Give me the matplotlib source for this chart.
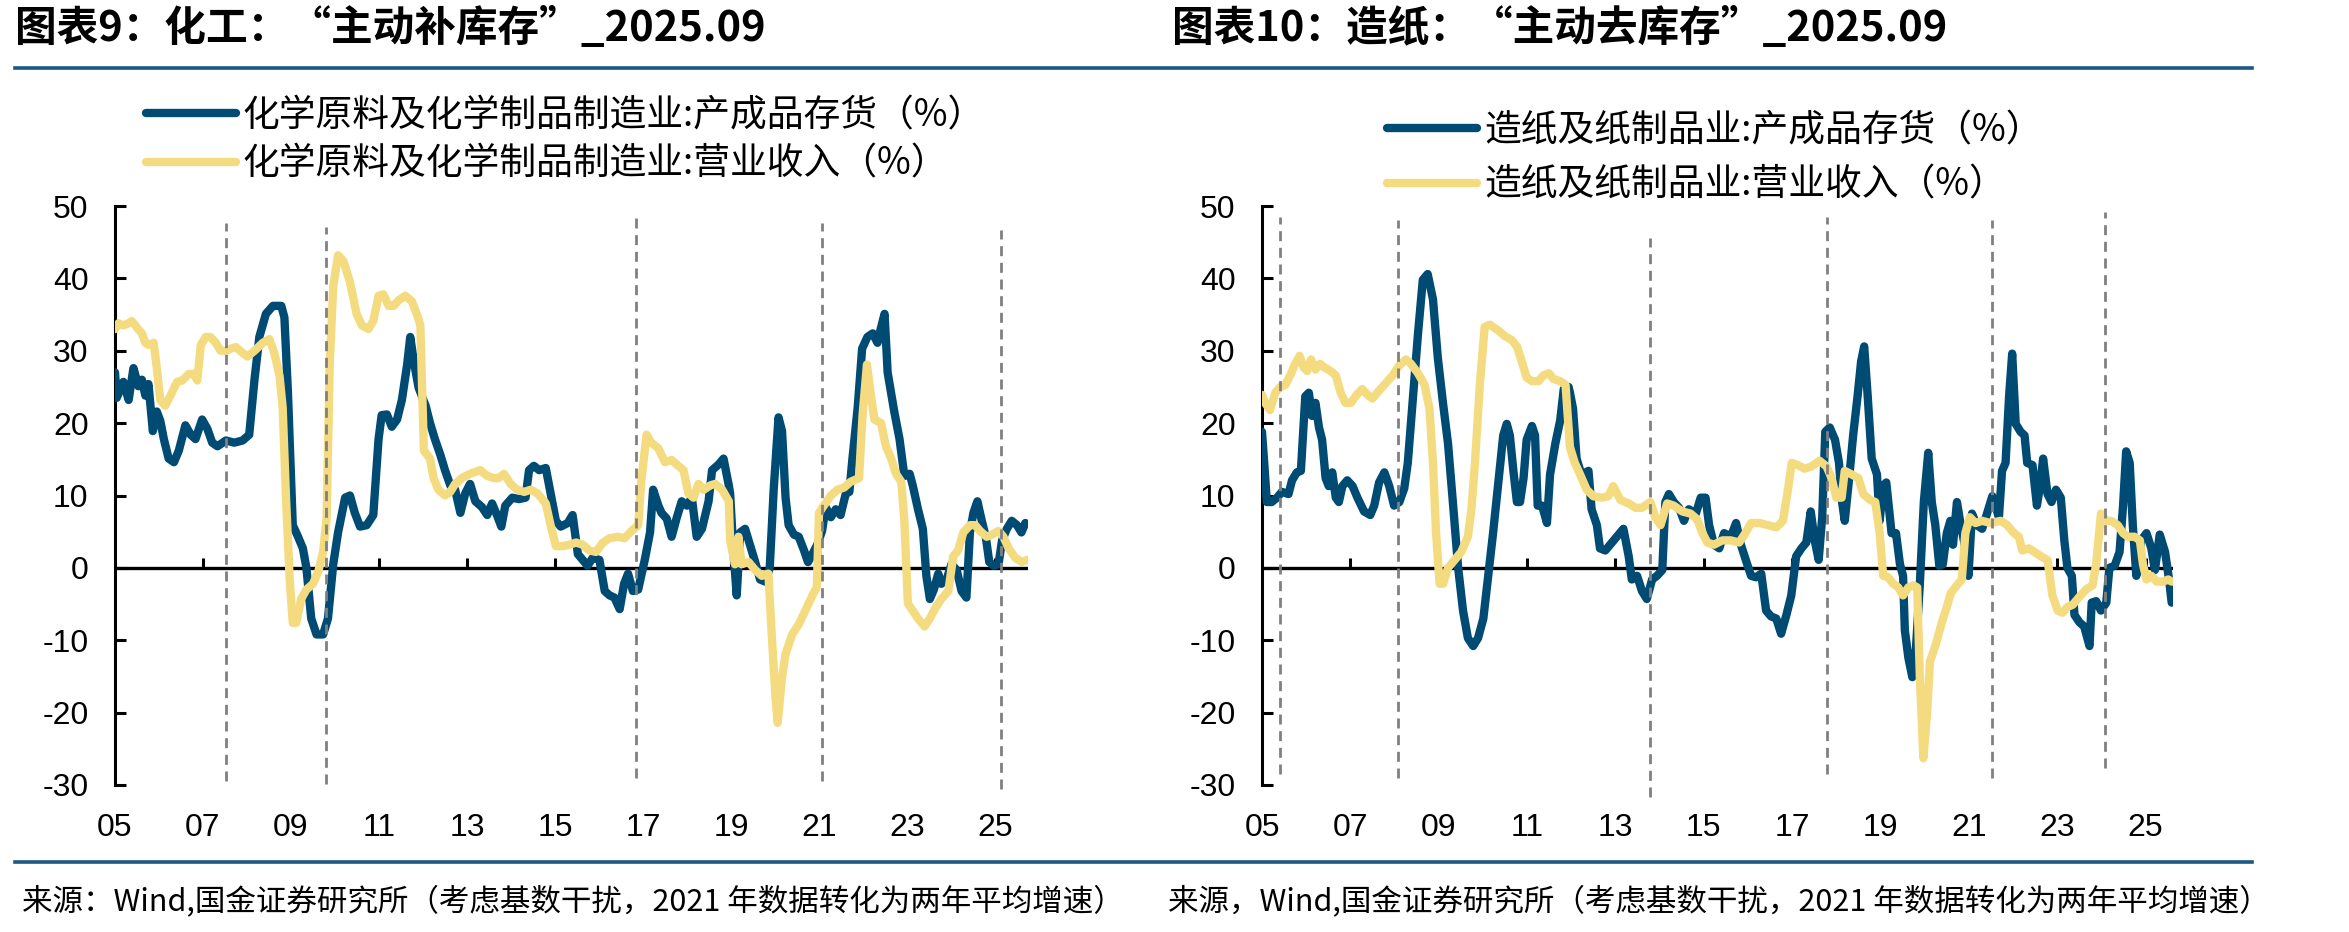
import matplotlib
matplotlib.use("Agg")
import matplotlib.pyplot as plt
from matplotlib import font_manager
from matplotlib.lines import Line2D

# ---- data ----
chem_inv_t = [2005.00, 2005.04, 2005.19, 2005.31, 2005.42, 2005.53, 2005.61, 2005.69, 2005.76, 2005.86,
              2005.95, 2006.03, 2006.11, 2006.22, 2006.34, 2006.45, 2006.60, 2006.72, 2006.83, 2006.98,
              2007.10, 2007.21, 2007.33, 2007.52, 2007.71, 2007.90, 2008.05, 2008.17, 2008.28, 2008.43,
              2008.59, 2008.78, 2008.85, 2008.93, 2009.04, 2009.16, 2009.27, 2009.35, 2009.46, 2009.58,
              2009.73, 2009.84, 2009.96, 2010.07, 2010.23, 2010.34, 2010.45, 2010.57, 2010.72, 2010.87,
              2010.99, 2011.06, 2011.18, 2011.29, 2011.41, 2011.52, 2011.64, 2011.71, 2011.79, 2011.90,
              2012.06,
              2012.16, 2012.27, 2012.39, 2012.50, 2012.62, 2012.73, 2012.85, 2012.96, 2013.07, 2013.19,
              2013.34, 2013.46, 2013.57, 2013.68, 2013.78, 2013.87, 2014.03, 2014.18, 2014.33, 2014.41,
              2014.52, 2014.64, 2014.79, 2014.90, 2015.02, 2015.13, 2015.29, 2015.40, 2015.52, 2015.63,
              2015.74, 2015.86, 2016.01, 2016.13, 2016.24, 2016.35, 2016.47, 2016.57, 2016.66, 2016.77,
              2016.89, 2017.04, 2017.16, 2017.23, 2017.35, 2017.42, 2017.54, 2017.65, 2017.77, 2017.88,
              2018.00, 2018.11, 2018.22, 2018.34, 2018.49, 2018.57, 2018.72, 2018.83, 2018.95,
              2018.98, 2019.05, 2019.13, 2019.21, 2019.32, 2019.43, 2019.55, 2019.66, 2019.78, 2019.88,
              2019.97, 2020.08, 2020.16, 2020.24, 2020.31, 2020.43, 2020.54, 2020.66, 2020.75, 2020.85,
              2020.96, 2021.07, 2021.15, 2021.27, 2021.38, 2021.49, 2021.61, 2021.69, 2021.76, 2021.88,
              2021.98, 2022.10, 2022.22, 2022.33, 2022.41, 2022.49, 2022.56, 2022.71, 2022.83, 2022.94,
              2023.06, 2023.13, 2023.25, 2023.36, 2023.44, 2023.52, 2023.61, 2023.71, 2023.78, 2023.90,
              2024.01, 2024.13, 2024.24, 2024.35, 2024.43, 2024.51, 2024.60, 2024.70, 2024.79, 2024.87,
              2024.97, 2025.08, 2025.16, 2025.27, 2025.38, 2025.50, 2025.60, 2025.69]
chem_inv = [27.0, 23.5, 25.7, 23.2, 27.6, 25.1, 26.0, 23.8, 25.4, 18.9,
            21.6, 20.3, 17.8, 15.1, 14.6, 16.2, 19.7, 18.4, 17.8, 20.5,
            19.2, 17.3, 16.8, 17.6, 17.3, 17.6, 18.4, 26.0, 31.9, 35.1,
            36.2, 36.2, 34.6, 24.3, 5.9, 4.3, 2.7, 0.0, -7.0, -9.2,
            -9.2, -7.0, 0.5, 4.9, 9.7, 10.0, 7.6, 5.7, 5.9, 7.3,
            17.8, 21.1, 21.2, 19.5, 20.5, 23.2, 28.1, 31.9, 28.6, 24.9,
            22.4,
            20.0, 17.8, 15.7, 13.5, 11.4, 10.8, 7.6, 10.3, 11.6, 9.2,
            8.4, 7.3, 8.9, 7.3, 5.7, 8.6, 9.7, 9.5, 9.7, 13.5,
            14.1, 13.5, 13.8, 10.3, 6.5, 5.7, 6.2, 7.3, 1.9, 1.1,
            0.3, 1.4, 1.1, -3.2, -3.8, -4.1, -5.7, -2.2, -0.8, -3.2,
            -3.0, 1.1, 4.9, 10.8, 8.6, 7.6, 6.8, 4.3, 7.0, 9.2,
            8.6, 9.7, 4.3, 5.4, 9.2, 13.5, 14.3, 15.1, 11.4,
            10.3, 2.7, -3.8, 4.9, 5.4, 3.2, 0.8, -1.6, -1.9, 0.0,
            10.8, 20.8, 18.9, 9.7, 5.9, 4.6, 4.3, 2.4, 0.8, 1.9,
            3.2, 5.1, 8.4, 7.0, 8.1, 7.3, 10.3, 10.5, 15.1, 22.2,
            30.3, 31.9, 32.4, 31.1, 33.2, 35.1, 27.0, 21.6, 17.8, 12.7,
            13.0, 11.4, 8.1, 5.4, -1.1, -4.3, -3.0, -0.8, -2.2, -1.6,
            0.5, -0.3, -3.2, -4.1, 4.9, 7.6, 9.2, 6.5, 4.3, 0.8,
            0.3, 0.5, 3.8, 5.4, 6.5, 5.9, 4.9, 6.2]

chem_rev_t = [2005.00, 2005.08, 2005.19, 2005.31, 2005.38, 2005.50, 2005.61, 2005.69, 2005.76, 2005.88,
              2005.95, 2006.03, 2006.14, 2006.26, 2006.41, 2006.53, 2006.68, 2006.79, 2006.87, 2006.95,
              2007.06, 2007.17, 2007.29, 2007.40, 2007.52, 2007.63, 2007.75, 2007.90, 2008.01, 2008.17,
              2008.36, 2008.51, 2008.62, 2008.74, 2008.81, 2008.89, 2008.97, 2009.04, 2009.12, 2009.23,
              2009.35, 2009.50, 2009.62, 2009.73, 2009.81, 2009.88, 2009.96, 2010.07, 2010.19, 2010.34,
              2010.49, 2010.61, 2010.76, 2010.87, 2010.99, 2011.10, 2011.22, 2011.33, 2011.45, 2011.60,
              2011.75, 2011.87, 2011.94, 2012.02,
              2012.16, 2012.24, 2012.35, 2012.50, 2012.62, 2012.73, 2012.88, 2013.07, 2013.30, 2013.46,
              2013.61, 2013.72, 2013.84, 2013.99, 2014.14, 2014.30, 2014.45, 2014.60, 2014.79, 2014.90,
              2015.02, 2015.17, 2015.33, 2015.48, 2015.63, 2015.78, 2015.93, 2016.09, 2016.24, 2016.43,
              2016.58, 2016.74, 2016.89, 2016.96, 2017.08, 2017.19, 2017.35, 2017.50, 2017.65, 2017.80,
              2017.92, 2018.03, 2018.15, 2018.26, 2018.38, 2018.53, 2018.64, 2018.80, 2018.95,
              2018.98, 2019.09, 2019.17, 2019.24, 2019.40, 2019.55, 2019.70, 2019.85, 2019.93, 2020.01,
              2020.06, 2020.16, 2020.24, 2020.39, 2020.54, 2020.69, 2020.85, 2020.95, 2021.00, 2021.11,
              2021.27, 2021.42, 2021.57, 2021.72, 2021.91, 2021.99, 2022.09, 2022.18, 2022.26, 2022.41,
              2022.52, 2022.64, 2022.75, 2022.87, 2022.94, 2023.02, 2023.13, 2023.25, 2023.40, 2023.52,
              2023.63, 2023.78, 2023.94, 2024.05, 2024.16, 2024.28, 2024.43, 2024.55, 2024.66, 2024.81,
              2024.93, 2025.08, 2025.19, 2025.31, 2025.46, 2025.61, 2025.73]
chem_rev = [33.0, 33.8, 33.5, 33.8, 34.1, 33.2, 32.4, 31.1, 30.8, 31.1,
            27.6, 23.2, 22.4, 23.8, 25.7, 25.9, 26.8, 26.8, 25.9, 30.8,
            31.9, 31.9, 31.1, 30.0, 30.0, 30.3, 30.5, 29.7, 29.2, 30.0,
            31.1, 31.6, 29.7, 26.5, 22.2, 9.2, -1.6, -7.6, -7.6, -4.3,
            -3.0, -2.2, -0.5, 2.2, 7.0, 28.1, 38.9, 43.2, 42.4, 39.5,
            35.1, 33.5, 33.0, 34.1, 37.6, 37.8, 36.2, 36.2, 37.0, 37.6,
            36.8, 34.9, 33.5, 16.2,
            15.1, 12.4, 10.8, 10.0, 10.5, 11.6, 12.4, 13.0, 13.5, 12.7,
            12.4, 12.4, 13.0, 11.6, 10.8, 10.5, 10.8, 10.3, 8.9, 5.9,
            3.0, 3.0, 3.2, 3.5, 3.2, 2.4, 2.2, 3.5, 4.1, 4.3,
            4.1, 5.1, 5.9, 11.9, 18.4, 17.3, 16.5, 14.6, 14.9, 14.1,
            13.5, 10.3, 9.7, 11.6, 10.8, 11.4, 11.6, 10.8, 9.2,
            3.8, 0.5, 4.3, 0.5, 0.8, -0.3, -1.1, -0.8, -9.7, -17.8,
            -21.4, -15.1, -11.9, -9.2, -7.8, -5.9, -3.8, -2.7, 7.6, 8.6,
            10.0, 10.8, 11.1, 11.9, 12.4, 21.1, 28.1, 23.8, 20.5, 20.0,
            16.8, 15.1, 13.0, 11.9, 6.5, -4.9, -5.9, -7.0, -8.1, -7.0,
            -5.7, -4.3, -3.2, 1.6, 2.4, 4.9, 5.9, 5.9, 5.1, 4.3,
            4.6, 5.1, 4.3, 2.7, 1.4, 0.8, 1.1]

paper_inv_t = [2005.00, 2005.05, 2005.11, 2005.22, 2005.34, 2005.45, 2005.60, 2005.68, 2005.79, 2005.88,
               2005.98, 2006.06, 2006.13, 2006.21, 2006.29, 2006.36, 2006.44, 2006.51, 2006.59, 2006.67,
               2006.74, 2006.82, 2006.93, 2007.05, 2007.16, 2007.31, 2007.45, 2007.54, 2007.65, 2007.77,
               2007.88, 2007.99, 2008.11, 2008.22, 2008.30, 2008.41, 2008.53, 2008.64, 2008.75, 2008.87,
               2008.98, 2009.10, 2009.21, 2009.32, 2009.44, 2009.55, 2009.66, 2009.78, 2009.89, 2010.01,
               2010.12, 2010.23, 2010.35, 2010.46, 2010.54, 2010.61, 2010.69, 2010.77, 2010.84, 2010.92,
               2010.99, 2011.11, 2011.18, 2011.24, 2011.34, 2011.45, 2011.52, 2011.64, 2011.75, 2011.83,
               2011.94,
               2011.97, 2012.04, 2012.12, 2012.23, 2012.39, 2012.46, 2012.58, 2012.65, 2012.77, 2012.92,
               2013.07, 2013.18, 2013.30, 2013.37, 2013.49, 2013.60, 2013.71, 2013.83, 2013.94, 2014.06,
               2014.13, 2014.21, 2014.32, 2014.44, 2014.55, 2014.66, 2014.82, 2014.93, 2015.04, 2015.12,
               2015.23, 2015.35, 2015.46, 2015.61, 2015.73, 2015.84, 2015.95, 2016.07, 2016.18, 2016.30,
               2016.41, 2016.52, 2016.64, 2016.75, 2016.87, 2016.98, 2017.09, 2017.21, 2017.32, 2017.42,
               2017.51, 2017.60, 2017.68, 2017.75, 2017.85, 2017.97, 2018.06, 2018.13, 2018.19, 2018.29,
               2018.38, 2018.48, 2018.56, 2018.63, 2018.71, 2018.80, 2018.92,
               2018.98, 2019.06, 2019.13, 2019.25, 2019.35, 2019.44, 2019.51, 2019.55, 2019.63, 2019.72,
               2019.80, 2019.89, 2019.98, 2020.08, 2020.16, 2020.24, 2020.33, 2020.41, 2020.50, 2020.58,
               2020.64, 2020.73, 2020.80, 2020.92, 2020.99, 2021.07, 2021.18, 2021.30, 2021.41, 2021.53,
               2021.68, 2021.75, 2021.83, 2021.91, 2021.98, 2022.06, 2022.17, 2022.26, 2022.32, 2022.44,
               2022.54, 2022.61, 2022.68, 2022.78, 2022.87, 2022.97, 2023.08, 2023.16, 2023.23, 2023.33,
               2023.39, 2023.50, 2023.61, 2023.73, 2023.78, 2023.88, 2023.99, 2024.11, 2024.18, 2024.30,
               2024.41, 2024.49, 2024.56, 2024.64, 2024.71, 2024.79, 2024.90, 2025.02, 2025.13, 2025.21,
               2025.32, 2025.44, 2025.53, 2025.59]
paper_inv = [18.8, 14.5, 9.1, 9.1, 9.7, 10.5, 10.2, 12.1, 13.2, 13.4,
             23.7, 24.2, 21.0, 22.8, 19.4, 17.7, 12.4, 11.3, 13.2, 9.7,
             9.1, 11.3, 12.1, 11.3, 9.7, 7.8, 7.3, 8.6, 11.8, 13.2,
             11.3, 8.6, 9.1, 11.0, 14.5, 23.1, 32.3, 39.8, 40.6, 37.1,
             29.0, 22.6, 17.2, 9.1, 0.0, -5.9, -9.7, -10.8, -9.7, -7.0,
             -1.1, 4.8, 11.8, 18.3, 19.9, 18.3, 13.4, 9.1, 9.1, 12.4,
             17.7, 19.6, 18.3, 8.6, 8.6, 6.2, 12.9, 17.2, 20.4, 24.7,
             25.0,
             24.2, 22.0, 15.1, 12.9, 13.4, 8.1, 5.9, 2.7, 2.4, 3.5,
             4.6, 5.4, 1.6, -1.6, -1.1, -3.2, -4.3, -1.6, -1.1, -0.3,
             9.1, 10.2, 9.1, 8.3, 6.5, 8.1, 7.5, 9.7, 9.7, 5.9,
             3.2, 2.7, 4.8, 4.3, 6.2, 3.2, 1.1, -1.1, -1.3, -0.8,
             -5.9, -6.7, -7.0, -9.1, -6.5, -3.8, 1.6, 2.7, 3.5, 7.8,
             3.8, 1.1, 7.0, 18.8, 19.4, 17.7, 14.5, 9.1, 6.5, 12.4,
             18.3, 23.7, 28.5, 30.6, 23.7, 15.1, 12.9,
             6.5, 11.3, 11.8, 4.8, 4.8, 0.5, -1.1, -8.6, -12.4, -15.1,
             -11.3, -2.2, 9.1, 15.9, 9.1, 5.9, 0.3, 0.5, 4.8, 6.5,
             3.2, 9.1, 6.5, 2.7, -1.1, 7.5, 5.9, 5.4, 7.5, 9.9,
             7.0, 13.4, 14.5, 23.7, 29.6, 19.9, 18.8, 18.3, 14.5, 14.2,
             8.6, 11.3, 15.1, 10.2, 9.1, 10.8, 9.7, 3.8, 0.0, -1.1,
             -6.5, -7.5, -8.1, -10.8, -4.8, -4.6, -5.9, -4.8, 0.0, 0.3,
             2.2, 8.6, 16.1, 14.5, 5.9, -1.1, 3.8, 4.8, 2.7, -0.3,
             4.6, 2.2, -1.6, -4.8]

paper_rev_t = [2005.00, 2005.07, 2005.18, 2005.30, 2005.41, 2005.53, 2005.64, 2005.75, 2005.85, 2005.94,
               2006.02, 2006.11, 2006.21, 2006.31, 2006.41, 2006.55, 2006.67, 2006.78, 2006.89, 2007.01,
               2007.14, 2007.27, 2007.39, 2007.50, 2007.65, 2007.80, 2007.96, 2008.11, 2008.26, 2008.37,
               2008.53, 2008.68, 2008.79, 2008.87, 2008.94, 2009.02, 2009.10, 2009.21, 2009.36, 2009.51,
               2009.66, 2009.74, 2009.82, 2009.93, 2010.04, 2010.16, 2010.35, 2010.50, 2010.65, 2010.77,
               2010.88, 2010.99, 2011.11, 2011.26, 2011.37, 2011.49, 2011.60, 2011.75, 2011.87,
               2011.97, 2012.08, 2012.20, 2012.35, 2012.50, 2012.69, 2012.84, 2012.95, 2013.11, 2013.30,
               2013.45, 2013.60, 2013.79, 2013.90, 2014.02, 2014.17, 2014.32, 2014.51, 2014.70, 2014.85,
               2014.97, 2015.08, 2015.23, 2015.42, 2015.61, 2015.80, 2015.92, 2016.07, 2016.26, 2016.45,
               2016.64, 2016.79, 2016.89, 2016.99, 2017.13, 2017.28, 2017.43, 2017.62, 2017.78, 2017.89,
               2018.00, 2018.12, 2018.19, 2018.35, 2018.50, 2018.61, 2018.76, 2018.88,
               2018.98, 2019.06, 2019.17, 2019.29, 2019.40, 2019.51, 2019.63, 2019.74, 2019.83, 2019.89,
               2019.97, 2020.05, 2020.12, 2020.24, 2020.39, 2020.50, 2020.59, 2020.73, 2020.84, 2020.92,
               2021.02, 2021.15, 2021.30, 2021.49, 2021.72, 2021.87, 2022.02, 2022.13, 2022.21, 2022.36,
               2022.48, 2022.63, 2022.78, 2022.89, 2023.01, 2023.12, 2023.23, 2023.35, 2023.50, 2023.65,
               2023.80, 2023.88, 2023.99, 2024.11, 2024.22, 2024.37, 2024.49, 2024.60, 2024.75, 2024.87,
               2024.94, 2025.02, 2025.13, 2025.25, 2025.40, 2025.51, 2025.59]
paper_rev = [23.9, 22.8, 21.8, 24.2, 25.0, 25.3, 26.6, 28.2, 29.3, 27.7,
             27.2, 28.8, 27.4, 28.2, 27.7, 27.2, 26.6, 24.2, 22.8, 22.8,
             23.9, 24.7, 23.9, 23.4, 24.5, 25.5, 26.6, 28.0, 28.8, 28.2,
             26.9, 25.3, 22.0, 14.5, 4.8, -2.2, -2.2, 0.0, 1.1, 2.2,
             4.3, 8.1, 14.5, 25.3, 33.3, 33.6, 32.8, 32.0, 31.5, 30.6,
             28.5, 26.3, 25.8, 25.8, 26.6, 26.9, 26.1, 25.8, 25.3,
             16.7, 14.5, 12.9, 10.8, 9.9, 9.7, 9.9, 11.3, 9.4, 8.9,
             8.3, 8.3, 9.1, 7.0, 5.9, 8.9, 8.6, 7.8, 7.5, 6.7,
             4.8, 3.5, 3.2, 3.8, 3.8, 3.5, 4.6, 6.2, 6.2, 5.9,
             5.6, 6.5, 10.2, 14.5, 14.2, 13.7, 14.0, 14.8, 14.0, 12.4,
             9.7, 9.7, 13.4, 12.9, 12.4, 10.2, 9.4, 9.1,
             4.8, -1.1, -1.3, -2.2, -2.7, -3.8, -2.7, -2.4, -2.7, -15.1,
             -26.3, -20.4, -12.9, -10.8, -7.5, -5.4, -3.5, -2.4, -1.6, 4.8,
             7.0, 6.2, 6.5, 6.2, 6.5, 5.9, 4.8, 4.3, 2.4, 2.7,
             2.2, 1.6, 1.1, -3.8, -5.9, -6.2, -5.4, -5.1, -4.0, -3.0,
             -2.4, 0.5, 7.5, 6.5, 6.5, 5.9, 4.8, 4.3, 4.3, 3.8,
             0.5, -1.6, -1.1, -1.9, -1.9, -1.6, -1.9]

chem_marks = [2007.52, 2009.80, 2016.84, 2021.07, 2025.14]
chem_mark_top = [47.6, 47.1, 48.5, 47.6, 46.7]
chem_mark_bot = [-29.5, -29.9, -29.1, -29.5, -30.5]
paper_marks = [2005.41, 2008.08, 2013.78, 2017.78, 2021.52, 2024.07]
paper_mark_top = [48.5, 48.0, 45.6, 48.5, 48.0, 49.2]
paper_mark_bot = [-28.5, -29.1, -31.6, -28.5, -29.1, -27.7]

year_ticks = list(range(2005, 2026, 2))
year_labels = ["%02d" % (y % 100) for y in year_ticks]

titles = ["图表9：化工：“主动补库存”_2025.09", "图表10：造纸：“主动去库存”_2025.09"]
chem_labels = ["化学原料及化学制品制造业:产成品存货（%）", "化学原料及化学制品制造业:营业收入（%）"]
paper_labels = ["造纸及纸制品业:产成品存货（%）", "造纸及纸制品业:营业收入（%）"]
sources = ["来源：Wind,国金证券研究所（考虑基数干扰，2021 年数据转化为两年平均增速）",
           "来源，Wind,国金证券研究所（考虑基数干扰，2021 年数据转化为两年平均增速）"]

# ---- style ----
W, H, DPI = 2349, 932, 100
BLUE = "#004B73"
YELLOW = "#F5DB80"
RULE = "#1B5883"
DASH = "#808080"

names = {f.name for f in font_manager.fontManager.ttflist}
NUM_FONT = "Liberation Sans Narrow" if "Liberation Sans Narrow" in names else "Liberation Sans"
plt.rcParams["font.family"] = ["Noto Sans CJK SC", "DejaVu Sans"]
plt.rcParams["axes.unicode_minus"] = False


def px(x):
    return x / W


def py(y):
    return 1 - y / H


fig = plt.figure(figsize=(W / DPI, H / DPI), dpi=DPI)


def panel(x0, x1, xmax, inv_t, inv, rev_t, rev, labels, marks, tops, bots, leg_xy, leg_space):
    ax = fig.add_axes([px(x0), py(785), px(x1) - px(x0), py(206) - py(785)])
    ax.plot(inv_t, inv, color=BLUE, lw=6, solid_capstyle="round", solid_joinstyle="round",
            zorder=3, label=labels[0])
    ax.plot(rev_t, rev, color=YELLOW, lw=6, solid_capstyle="round", solid_joinstyle="round",
            zorder=4, label=labels[1])
    ax.axhline(0, color="black", lw=2.4, zorder=2)
    ax.vlines(year_ticks[1:], 0, 1.3, color="black", lw=2.2, zorder=2)
    for t, top, bot in zip(marks, tops, bots):
        ax.plot([t, t], [bot, top], color=DASH, lw=2, linestyle=(0, (3.6, 2.4)),
                zorder=5, clip_on=False)
    ax.set_xlim(2005, xmax)
    ax.set_ylim(-30, 50)
    ax.set_yticks(range(-30, 51, 10))
    ax.set_xticks(year_ticks)
    ax.set_xticklabels(year_labels)
    for s in ["top", "right", "bottom"]:
        ax.spines[s].set_visible(False)
    ax.spines["left"].set_linewidth(2.2)
    ax.tick_params(axis="y", direction="in", length=8, width=2.2, pad=19,
                   labelsize=23, labelfontfamily=NUM_FONT)
    ax.tick_params(axis="x", length=0, pad=20, labelsize=23, labelfontfamily=NUM_FONT)
    ax.legend(loc="upper left", bbox_to_anchor=(px(leg_xy[0]), py(leg_xy[1])),
              bbox_transform=fig.transFigure, frameon=False, fontsize=26.5,
              handlelength=2.45, handletextpad=0.18, labelspacing=leg_space,
              borderpad=0, borderaxespad=0)
    return ax


panel(115, 1028, 2025.75, chem_inv_t, chem_inv, chem_rev_t, chem_rev, chem_labels,
      chem_marks, chem_mark_top, chem_mark_bot, (146, 96), 0.26)
panel(1262, 2173, 2025.62, paper_inv_t, paper_inv, paper_rev_t, paper_rev, paper_labels,
      paper_marks, paper_mark_top, paper_mark_bot, (1387, 111), 0.42)

fig.text(px(15), py(29), titles[0], fontsize=30, fontweight="bold", va="center", ha="left")
fig.text(px(1172), py(29), titles[1], fontsize=30, fontweight="bold", va="center", ha="left")

for y in (68, 862):
    fig.add_artist(Line2D([px(15), px(2252)], [py(y), py(y)], color=RULE, lw=2.6,
                          transform=fig.transFigure))

fig.text(px(22), py(901), sources[0], fontsize=22, va="center", ha="left")
fig.text(px(1168), py(901), sources[1], fontsize=22, va="center", ha="left")

fig.savefig("out.png", dpi=DPI)
